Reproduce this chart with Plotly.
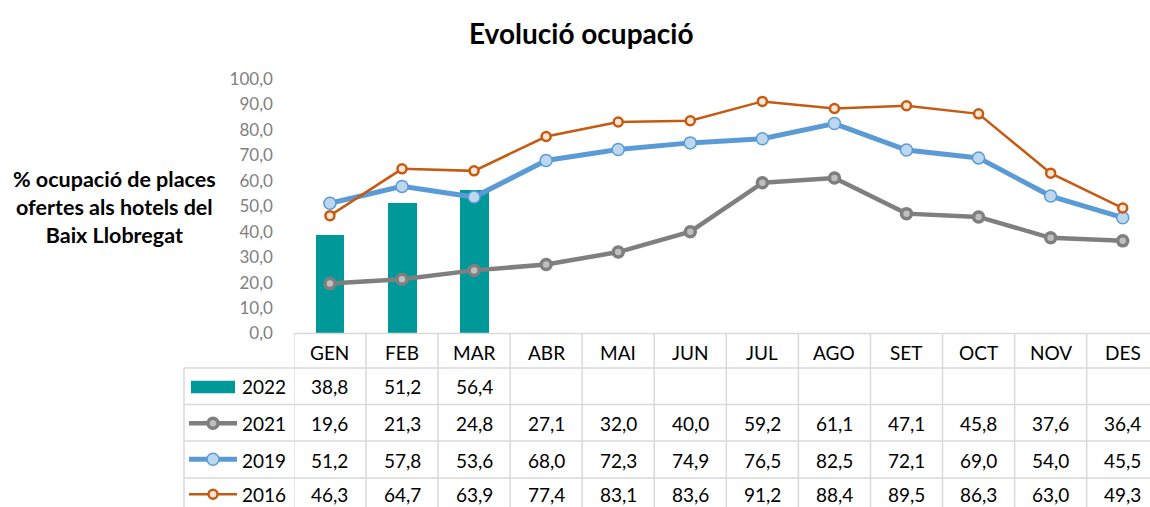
import plotly.graph_objects as go

months = ["GEN", "FEB", "MAR", "ABR", "MAI", "JUN", "JUL", "AGO", "SET", "OCT", "NOV", "DES"]
v2022 = [38.8, 51.2, 56.4]
v2021 = [19.6, 21.3, 24.8, 27.1, 32.0, 40.0, 59.2, 61.1, 47.1, 45.8, 37.6, 36.4]
v2019 = [51.2, 57.8, 53.6, 68.0, 72.3, 74.9, 76.5, 82.5, 72.1, 69.0, 54.0, 45.5]
v2016 = [46.3, 64.7, 63.9, 77.4, 83.1, 83.6, 91.2, 88.4, 89.5, 86.3, 63.0, 49.3]
yticks = [0, 10, 20, 30, 40, 50, 60, 70, 80, 90, 100]

W, H = 1150, 507
FONT = "Lato"

def px(x):
    return x / W

def py(y):
    return 1 - y / H

col_w = 72.07
x_left = 293.9
n_visible = (W - x_left) / col_w
xs = list(range(len(months)))

fig = go.Figure()
fig.add_trace(go.Bar(x=xs[:len(v2022)], y=v2022, width=0.40, marker=dict(color="#009999", line=dict(width=0)), name="2022"))
fig.add_trace(go.Scatter(x=xs, y=v2021, mode="lines+markers", name="2021",
                         line=dict(color="#7f7f7f", width=4.5),
                         marker=dict(size=10, color="#bfbfbf", line=dict(color="#7f7f7f", width=3.5))))
fig.add_trace(go.Scatter(x=xs, y=v2019, mode="lines+markers", name="2019",
                         line=dict(color="#5b9bd5", width=5),
                         marker=dict(size=12, color="#bdd7ee", line=dict(color="#5b9bd5", width=1.5))))
fig.add_trace(go.Scatter(x=xs, y=v2016, mode="lines+markers", name="2016",
                         line=dict(color="#c55a11", width=2.5),
                         marker=dict(size=9, color="#fbe5d6", line=dict(color="#c55a11", width=2.5))))

shapes = []
annotations = []
grid = "#d9d9d9"
y_top, y_head, rows = 333.5, 368, [368, 404.5, 441, 478, 515]
for k in range(len(months) + 1):
    shapes.append(dict(type="line", xref="x", yref="paper", x0=k - 0.5, x1=k - 0.5,
                       y0=py(y_top), y1=py(H), line=dict(color=grid, width=1.5)))
shapes.append(dict(type="line", xref="paper", yref="paper", x0=px(184), x1=px(184),
                   y0=py(y_head), y1=py(H), line=dict(color=grid, width=1.5)))
shapes.append(dict(type="line", xref="paper", yref="paper", x0=px(x_left), x1=1,
                   y0=py(y_top), y1=py(y_top), line=dict(color=grid, width=1.5)))
for r in rows[:-1]:
    shapes.append(dict(type="line", xref="paper", yref="paper", x0=px(184), x1=1,
                       y0=py(r), y1=py(r), line=dict(color=grid, width=1.5)))

TXT = dict(family=FONT, size=19, color="#000000")
for i, m in enumerate(months):
    annotations.append(dict(x=i, y=py(352), xref="x", yref="paper", text=m, showarrow=False,
                            xanchor="center", yanchor="middle", font=TXT))

def fmt(v):
    return f"{v:.1f}".replace(".", ",")

series = [("2022", v2022), ("2021", v2021), ("2019", v2019), ("2016", v2016)]
row_centers = [386, 423, 460, 494]
for (name, vals), yc in zip(series, row_centers):
    for i, v in enumerate(vals):
        annotations.append(dict(x=i, y=py(yc), xref="x", yref="paper", text=fmt(v), showarrow=False,
                                xanchor="center", yanchor="middle", font=TXT))
    annotations.append(dict(x=px(288), y=py(yc), xref="paper", yref="paper", text=name, showarrow=False,
                            xanchor="right", yanchor="middle", font=TXT))

shapes.append(dict(type="rect", xref="paper", yref="paper", x0=px(191), x1=px(235),
                   y0=py(393.3), y1=py(380.7), fillcolor="#009999", line=dict(width=0)))
keys = [(423.3, "#7f7f7f", 4.5, "#bfbfbf", "#7f7f7f", 10, 3.5),
        (459.3, "#5b9bd5", 5, "#bdd7ee", "#5b9bd5", 12, 1.5),
        (494.3, "#c55a11", 2.5, "#fbe5d6", "#c55a11", 9, 2.5)]
for yk, lc, lw, fc, mc, ms, mlw in keys:
    shapes.append(dict(type="line", xref="paper", yref="paper", x0=px(189), x1=px(237),
                       y0=py(yk), y1=py(yk), line=dict(color=lc, width=lw)))
    r = ms / 2
    shapes.append(dict(type="circle", xref="paper", yref="paper", x0=px(213 - r), x1=px(213 + r),
                       y0=py(yk + r), y1=py(yk - r), fillcolor=fc, line=dict(color=mc, width=mlw)))

annotations.append(dict(x=px(581), y=py(33), xref="paper", yref="paper", text="<b>Evolució ocupació</b>",
                        showarrow=False, xanchor="center", yanchor="middle",
                        font=dict(family=FONT, size=28, color="#000000")))
annotations.append(dict(x=px(114), y=py(207), xref="paper", yref="paper",
                        text="<b>% ocupació de places<br>ofertes als hotels del<br>Baix Llobregat</b>",
                        showarrow=False, align="center", xanchor="center", yanchor="middle",
                        font=dict(family=FONT, size=21.5, color="#000000")))

fig.update_layout(
    width=W, height=H, margin=dict(l=0, r=0, t=0, b=0, autoexpand=False),
    paper_bgcolor="white", plot_bgcolor="white", showlegend=False,
    bargap=0,
    xaxis=dict(domain=[px(x_left), 1], range=[-0.5, -0.5 + n_visible], showticklabels=False,
               showgrid=False, zeroline=False, showline=False, fixedrange=True, automargin=False),
    yaxis=dict(domain=[py(333.5), py(79)], range=[0, 100], tickvals=yticks,
               ticktext=[fmt(t) for t in yticks], showgrid=False, zeroline=False, showline=False,
               automargin=False,
               ticks="", ticklabelstandoff=20, tickfont=dict(family=FONT, size=17, color="#808080")),
    shapes=shapes, annotations=annotations,
)
fig.write_html("out.html", config={"displayModeBar": False},
               post_script="document.body.style.margin='0';document.body.style.overflow='hidden';")
